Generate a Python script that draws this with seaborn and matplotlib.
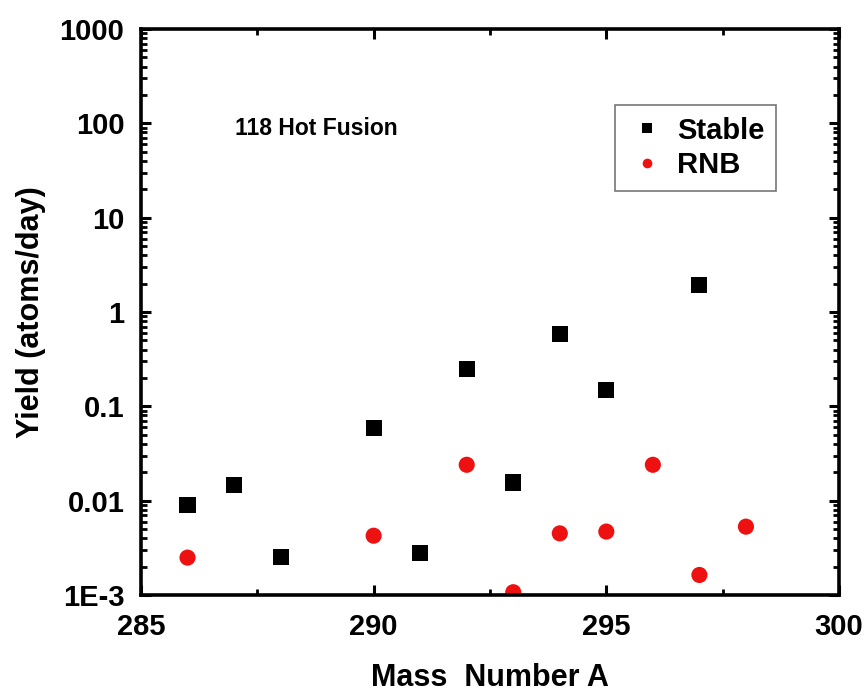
import numpy as np
import pandas as pd
import matplotlib
matplotlib.use("Agg")
import matplotlib.pyplot as plt
import seaborn as sns
from matplotlib.ticker import FixedLocator, NullFormatter, LogLocator

sns.set_style("ticks")
plt.rcParams['font.family'] = ['Liberation Sans', 'DejaVu Sans']
plt.rcParams['font.weight'] = 'bold'
plt.rcParams['text.color'] = 'black'
plt.rcParams['axes.labelcolor'] = 'black'
plt.rcParams['xtick.color'] = 'black'
plt.rcParams['ytick.color'] = 'black'

stable_A = [286, 287, 288, 290, 291, 292, 293, 294, 295, 297]
stable_yield = [0.009, 0.0147, 0.00255, 0.0586, 0.00277, 0.247, 0.0156, 0.58, 0.148, 1.93]
rnb_A = [286, 290, 292, 293, 294, 295, 296, 297, 298]
rnb_yield = [0.00249, 0.00425, 0.024, 0.00107, 0.0045, 0.0047, 0.024, 0.00163, 0.0053]
y_ticks = [1e-3, 1e-2, 1e-1, 1, 10, 100, 1000]
y_labels = ["1E-3", "0.01", "0.1", "1", "10", "100", "1000"]
x_ticks = [285, 290, 295, 300]

df = pd.concat([
    pd.DataFrame({"A": stable_A, "Yield": stable_yield, "Series": "Stable"}),
    pd.DataFrame({"A": rnb_A, "Yield": rnb_yield, "Series": "RNB"}),
])

fig = plt.figure(figsize=(8.67, 6.95), dpi=100)
ax = fig.add_axes([0.1626, 0.1439, 0.8051, 0.8144])

sns.scatterplot(data=df, x="A", y="Yield", hue="Series", style="Series",
                palette={"Stable": "black", "RNB": "#ee1111"},
                markers={"Stable": "s", "RNB": "o"},
                s=135, linewidth=0, ax=ax, legend=True)

ax.set_yscale("log")
ax.set_xlim(285, 300)
ax.set_ylim(1e-3, 1000)

ax.yaxis.set_major_locator(FixedLocator(y_ticks))
ax.set_yticklabels(y_labels)
ax.yaxis.set_minor_locator(LogLocator(base=10, subs=np.arange(2, 10)))
ax.yaxis.set_minor_formatter(NullFormatter())
ax.set_xticks(x_ticks)
ax.set_xticklabels([str(v) for v in x_ticks])
ax.xaxis.set_minor_locator(FixedLocator([287.5, 292.5, 297.5]))

for sp in ax.spines.values():
    sp.set_linewidth(2.6)
    sp.set_color("black")

ax.tick_params(which="major", direction="in", length=7, width=2.2,
               top=True, right=True, labelsize=21)
ax.tick_params(which="minor", direction="in", length=4.5, width=2.0,
               top=True, right=True)
ax.tick_params(axis="y", pad=12)
ax.tick_params(axis="x", pad=13)
for lab in ax.get_xticklabels() + ax.get_yticklabels():
    lab.set_fontweight("bold")

ax.set_xlabel("Mass  Number A", fontsize=22, fontweight="bold", labelpad=16)
ax.set_ylabel("Yield (atoms/day)", fontsize=22, fontweight="bold", labelpad=10)

ax.text(0.135, 0.825, "118 Hot Fusion", transform=ax.transAxes,
        fontsize=16.5, fontweight="bold", ha="left", va="center")

leg = ax.legend(loc="upper left", bbox_to_anchor=(0.679, 0.8657), frameon=True,
                fancybox=False, edgecolor="#555555", fontsize=21,
                markerscale=0.6, handlelength=1.4, handletextpad=0.33,
                borderpad=0.4, labelspacing=0.22, borderaxespad=0, title=None)
leg.get_frame().set_linewidth(1.2)
for t in leg.get_texts():
    t.set_fontweight("bold")

fig.savefig("out.png", dpi=100)
